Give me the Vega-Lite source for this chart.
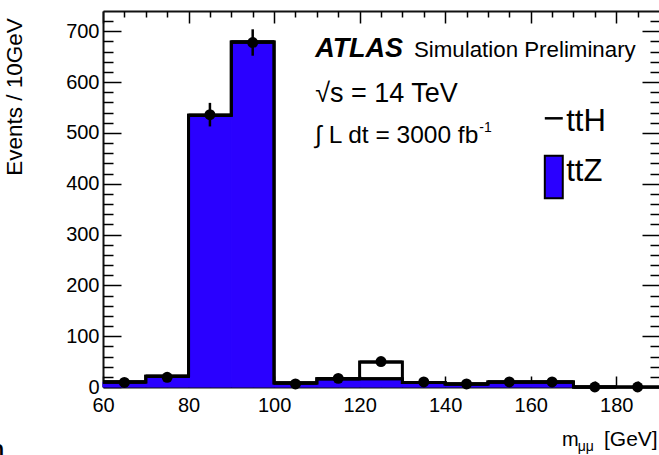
{
  "$schema": "https://vega.github.io/schema/vega-lite/v6.json",
  "width": 556,
  "height": 376,
  "autosize": {"type": "none"},
  "padding": {"left": 103, "top": 11, "right": 0, "bottom": 68},
  "background": "white",
  "config": {
    "font": "Liberation Sans",
    "view": {"stroke": null},
    "axis": {"labelFont": "Liberation Sans", "labelColor": "#000", "tickColor": "#000", "domainColor": "#111", "grid": false, "title": null}
  },
  "resolve": {"axis": {"x": "independent", "y": "independent"}},
  "datasets": {
    "bins": [
      {"lo": 60, "hi": 70, "mid": 65, "ttZ": 10, "total": 10, "obs": 9, "obsLo": 6, "obsHi": 12},
      {"lo": 70, "hi": 80, "mid": 75, "ttZ": 21, "total": 21, "obs": 19, "obsLo": 14.6, "obsHi": 23.4},
      {"lo": 80, "hi": 90, "mid": 85, "ttZ": 535, "total": 535, "obs": 536, "obsLo": 512.8, "obsHi": 559.2},
      {"lo": 90, "hi": 100, "mid": 95, "ttZ": 679, "total": 679, "obs": 678, "obsLo": 652, "obsHi": 704},
      {"lo": 100, "hi": 110, "mid": 105, "ttZ": 8, "total": 8, "obs": 6, "obsLo": 3.6, "obsHi": 8.4},
      {"lo": 110, "hi": 120, "mid": 115, "ttZ": 16, "total": 16, "obs": 17, "obsLo": 12.9, "obsHi": 21.1},
      {"lo": 120, "hi": 130, "mid": 125, "ttZ": 16, "total": 49, "obs": 50, "obsLo": 42.9, "obsHi": 57.1},
      {"lo": 130, "hi": 140, "mid": 135, "ttZ": 9, "total": 9, "obs": 10, "obsLo": 6.8, "obsHi": 13.2},
      {"lo": 140, "hi": 150, "mid": 145, "ttZ": 6, "total": 6, "obs": 6, "obsLo": 3.6, "obsHi": 8.4},
      {"lo": 150, "hi": 160, "mid": 155, "ttZ": 10, "total": 10, "obs": 10, "obsLo": 6.8, "obsHi": 13.2},
      {"lo": 160, "hi": 170, "mid": 165, "ttZ": 10, "total": 10, "obs": 10, "obsLo": 6.8, "obsHi": 13.2},
      {"lo": 170, "hi": 180, "mid": 175, "ttZ": 0, "total": 0, "obs": 0, "obsLo": 0, "obsHi": 0},
      {"lo": 180, "hi": 190, "mid": 185, "ttZ": 0, "total": 0, "obs": 0, "obsLo": 0, "obsHi": 0}
    ]
  },
  "layer": [
    {
      "data": {"name": "bins"},
      "mark": {"type": "bar", "fill": "#2a00ff", "stroke": "#2a00ff", "strokeWidth": 1},
      "encoding": {
        "x": {"field": "lo", "type": "quantitative", "scale": {"domain": [60, 190], "nice": false, "zero": false},
          "axis": {"orient": "bottom", "values": [60, 80, 100, 120, 140, 160, 180], "ticks": false, "labelFontSize": 20, "labelPadding": 8, "labelBaseline": "top", "labelFlush": false, "labelOverlap": false, "domain": true, "domainWidth": 2}},
        "x2": {"field": "hi"},
        "y": {"field": "ttZ", "type": "quantitative", "scale": {"domain": [0, 740], "nice": false, "zero": false},
          "axis": {"orient": "left", "values": [0, 100, 200, 300, 400, 500, 600, 700], "ticks": false, "labelFontSize": 20, "labelPadding": 4, "labelAlign": "right", "labelBaseline": "middle", "labelFlush": false, "labelOverlap": false, "domain": true, "domainWidth": 2}},
        "y2": {"datum": 0}
      }
    },
    {
      "data": {"name": "bins"},
      "mark": {"type": "line", "interpolate": "step-after", "color": "#000", "strokeWidth": 3},
      "encoding": {
        "x": {"field": "lo", "type": "quantitative", "scale": {"domain": [60, 190], "nice": false, "zero": false},
          "axis": {"orient": "top", "values": [60, 80, 100, 120, 140, 160, 180], "labels": false, "ticks": true, "tickSize": -12, "tickWidth": 1.5, "domain": true, "domainWidth": 2}},
        "y": {"field": "total", "type": "quantitative", "scale": {"domain": [0, 740], "nice": false, "zero": false},
          "axis": {"orient": "right", "values": [0, 100, 200, 300, 400, 500, 600, 700], "labels": false, "ticks": true, "tickSize": -17, "tickWidth": 1.5, "domain": false}}
      }
    },
    {
      "data": {"name": "bins"},
      "mark": {"type": "rule", "color": "#000", "strokeWidth": 3},
      "encoding": {
        "x": {"field": "lo", "type": "quantitative", "scale": {"domain": [60, 190], "nice": false, "zero": false},
          "axis": {"orient": "bottom", "values": [60, 80, 100, 120, 140, 160, 180], "labels": false, "ticks": true, "tickSize": -11, "tickWidth": 1.5, "domain": false}},
        "x2": {"field": "hi"},
        "y": {"field": "total", "type": "quantitative", "scale": {"domain": [0, 740], "nice": false, "zero": false},
          "axis": {"orient": "left", "values": [0, 100, 200, 300, 400, 500, 600, 700], "labels": false, "ticks": true, "tickSize": -18, "tickWidth": 1.5, "domain": false}}
      }
    },
    {
      "data": {"name": "bins"},
      "mark": {"type": "line", "interpolate": "step-after", "color": "#000", "strokeWidth": 3},
      "encoding": {
        "x": {"field": "lo", "type": "quantitative", "scale": {"domain": [60, 190], "nice": false, "zero": false},
          "axis": {"orient": "bottom", "values": [65, 70, 75, 85, 90, 95, 105, 110, 115, 125, 130, 135, 145, 150, 155, 165, 170, 175, 185], "labels": false, "ticks": true, "tickSize": -6, "tickWidth": 1.5, "domain": false}},
        "y": {"field": "ttZ", "type": "quantitative", "scale": {"domain": [0, 740], "nice": false, "zero": false},
          "axis": {"orient": "left", "values": [20, 40, 60, 80, 120, 140, 160, 180, 220, 240, 260, 280, 320, 340, 360, 380, 420, 440, 460, 480, 520, 540, 560, 580, 620, 640, 660, 680, 720], "labels": false, "ticks": true, "tickSize": -10, "tickWidth": 1.5, "domain": false}}
      }
    },
    {
      "data": {"name": "bins"},
      "mark": {"type": "rule", "color": "#000", "strokeWidth": 3},
      "encoding": {
        "x": {"field": "lo", "type": "quantitative", "scale": {"domain": [60, 190], "nice": false, "zero": false},
          "axis": {"orient": "top", "values": [65, 70, 75, 85, 90, 95, 105, 110, 115, 125, 130, 135, 145, 150, 155, 165, 170, 175, 185], "labels": false, "ticks": true, "tickSize": -6, "tickWidth": 1.5, "domain": false}},
        "x2": {"field": "hi"},
        "y": {"field": "ttZ", "type": "quantitative", "scale": {"domain": [0, 740], "nice": false, "zero": false},
          "axis": {"orient": "right", "values": [20, 40, 60, 80, 120, 140, 160, 180, 220, 240, 260, 280, 320, 340, 360, 380, 420, 440, 460, 480, 520, 540, 560, 580, 620, 640, 660, 680, 720], "labels": false, "ticks": true, "tickSize": -9, "tickWidth": 1.5, "domain": false}}
      }
    },
    {
      "data": {"name": "bins"},
      "mark": {"type": "rule", "color": "#000", "strokeWidth": 2.5},
      "encoding": {
        "x": {"field": "mid", "type": "quantitative", "scale": {"domain": [60, 190], "nice": false, "zero": false}, "axis": null},
        "y": {"field": "obsLo", "type": "quantitative", "scale": {"domain": [0, 740], "nice": false, "zero": false}, "axis": null},
        "y2": {"field": "obsHi"}
      }
    },
    {
      "data": {"name": "bins"},
      "mark": {"type": "point", "filled": true, "color": "#000", "size": 120, "opacity": 1},
      "encoding": {
        "x": {"field": "mid", "type": "quantitative", "scale": {"domain": [60, 190], "nice": false, "zero": false}, "axis": null},
        "y": {"field": "obs", "type": "quantitative", "scale": {"domain": [0, 740], "nice": false, "zero": false}, "axis": null}
      }
    },
    {
      "data": {"values": [{}]},
      "mark": {"type": "text", "text": "ATLAS", "font": "Liberation Sans", "fontSize": 27, "fontWeight": "bold", "fontStyle": "italic", "align": "left", "baseline": "alphabetic", "color": "#000"},
      "encoding": {
        "x": {"datum": 109.6, "type": "quantitative", "scale": {"domain": [60, 190], "nice": false, "zero": false}, "axis": null},
        "y": {"datum": 650, "type": "quantitative", "scale": {"domain": [0, 740], "nice": false, "zero": false}, "axis": null}
      }
    },
    {
      "data": {"values": [{}]},
      "mark": {"type": "text", "text": "Simulation Preliminary", "font": "Liberation Sans", "fontSize": 22.3, "align": "left", "baseline": "alphabetic", "color": "#000"},
      "encoding": {
        "x": {"datum": 132.7, "type": "quantitative", "scale": {"domain": [60, 190], "nice": false, "zero": false}, "axis": null},
        "y": {"datum": 650, "type": "quantitative", "scale": {"domain": [0, 740], "nice": false, "zero": false}, "axis": null}
      }
    },
    {
      "data": {"values": [{}]},
      "mark": {"type": "text", "text": "√s = 14 TeV", "font": "Liberation Sans", "fontSize": 27, "align": "left", "baseline": "alphabetic", "color": "#000"},
      "encoding": {
        "x": {"datum": 109.6, "type": "quantitative", "scale": {"domain": [60, 190], "nice": false, "zero": false}, "axis": null},
        "y": {"datum": 561.5, "type": "quantitative", "scale": {"domain": [0, 740], "nice": false, "zero": false}, "axis": null}
      }
    },
    {
      "data": {"values": [{}]},
      "mark": {"type": "text", "text": "∫ L dt = 3000 fb", "font": "Liberation Sans", "fontSize": 24.5, "align": "left", "baseline": "alphabetic", "color": "#000"},
      "encoding": {
        "x": {"datum": 109.6, "type": "quantitative", "scale": {"domain": [60, 190], "nice": false, "zero": false}, "axis": null},
        "y": {"datum": 479.6, "type": "quantitative", "scale": {"domain": [0, 740], "nice": false, "zero": false}, "axis": null}
      }
    },
    {
      "data": {"values": [{}]},
      "mark": {"type": "text", "text": "-1", "font": "Liberation Sans", "fontSize": 14, "align": "left", "baseline": "alphabetic", "color": "#000"},
      "encoding": {
        "x": {"datum": 148.0, "type": "quantitative", "scale": {"domain": [60, 190], "nice": false, "zero": false}, "axis": null},
        "y": {"datum": 502, "type": "quantitative", "scale": {"domain": [0, 740], "nice": false, "zero": false}, "axis": null}
      }
    },
    {
      "data": {"values": [{}]},
      "mark": {"type": "rule", "color": "#000", "strokeWidth": 2.5},
      "encoding": {
        "x": {"datum": 163.3, "type": "quantitative", "scale": {"domain": [60, 190], "nice": false, "zero": false}, "axis": null},
        "x2": {"datum": 167.5},
        "y": {"datum": 528.8, "type": "quantitative", "scale": {"domain": [0, 740], "nice": false, "zero": false}, "axis": null}
      }
    },
    {
      "data": {"values": [{}]},
      "mark": {"type": "text", "text": "ttH", "font": "Liberation Sans", "fontSize": 31, "align": "left", "baseline": "alphabetic", "color": "#000"},
      "encoding": {
        "x": {"datum": 168.3, "type": "quantitative", "scale": {"domain": [60, 190], "nice": false, "zero": false}, "axis": null},
        "y": {"datum": 504.4, "type": "quantitative", "scale": {"domain": [0, 740], "nice": false, "zero": false}, "axis": null}
      }
    },
    {
      "data": {"values": [{}]},
      "mark": {"type": "rect", "fill": "#2a00ff", "stroke": "#000", "strokeWidth": 2},
      "encoding": {
        "x": {"datum": 163.3, "type": "quantitative", "scale": {"domain": [60, 190], "nice": false, "zero": false}, "axis": null},
        "x2": {"datum": 167.5},
        "y": {"datum": 455.2, "type": "quantitative", "scale": {"domain": [0, 740], "nice": false, "zero": false}, "axis": null},
        "y2": {"datum": 371.4}
      }
    },
    {
      "data": {"values": [{}]},
      "mark": {"type": "text", "text": "ttZ", "font": "Liberation Sans", "fontSize": 31, "align": "left", "baseline": "alphabetic", "color": "#000"},
      "encoding": {
        "x": {"datum": 168.3, "type": "quantitative", "scale": {"domain": [60, 190], "nice": false, "zero": false}, "axis": null},
        "y": {"datum": 404.9, "type": "quantitative", "scale": {"domain": [0, 740], "nice": false, "zero": false}, "axis": null}
      }
    },
    {
      "data": {"values": [{}]},
      "mark": {"type": "text", "text": "Events / 10GeV", "font": "Liberation Sans", "fontSize": 22.5, "angle": 270, "align": "right", "baseline": "middle", "color": "#000"},
      "encoding": {
        "x": {"datum": 39.4, "type": "quantitative", "scale": {"domain": [60, 190], "nice": false, "zero": false}, "axis": null},
        "y": {"datum": 726, "type": "quantitative", "scale": {"domain": [0, 740], "nice": false, "zero": false}, "axis": null}
      }
    },
    {
      "data": {"values": [{}]},
      "mark": {"type": "text", "text": "[GeV]", "font": "Liberation Sans", "fontSize": 21, "align": "right", "baseline": "alphabetic", "color": "#000"},
      "encoding": {
        "x": {"datum": 189.7, "type": "quantitative", "scale": {"domain": [60, 190], "nice": false, "zero": false}, "axis": null},
        "y": {"datum": -116, "type": "quantitative", "scale": {"domain": [0, 740], "nice": false, "zero": false}, "axis": null}
      }
    },
    {
      "data": {"values": [{}]},
      "mark": {"type": "text", "text": "m", "font": "Liberation Sans", "fontSize": 20, "align": "left", "baseline": "alphabetic", "color": "#000"},
      "encoding": {
        "x": {"datum": 167.3, "type": "quantitative", "scale": {"domain": [60, 190], "nice": false, "zero": false}, "axis": null},
        "y": {"datum": -116, "type": "quantitative", "scale": {"domain": [0, 740], "nice": false, "zero": false}, "axis": null}
      }
    },
    {
      "data": {"values": [{}]},
      "mark": {"type": "text", "text": "μμ", "font": "Liberation Sans", "fontSize": 14, "align": "left", "baseline": "alphabetic", "color": "#000"},
      "encoding": {
        "x": {"datum": 171.0, "type": "quantitative", "scale": {"domain": [60, 190], "nice": false, "zero": false}, "axis": null},
        "y": {"datum": -126, "type": "quantitative", "scale": {"domain": [0, 740], "nice": false, "zero": false}, "axis": null}
      }
    },
    {
      "data": {"values": [{}]},
      "mark": {"type": "text", "text": "n", "font": "Liberation Sans", "fontSize": 30, "align": "left", "baseline": "alphabetic", "color": "#000"},
      "encoding": {
        "x": {"datum": 33.1, "type": "quantitative", "scale": {"domain": [60, 190], "nice": false, "zero": false}, "axis": null},
        "y": {"datum": -143.7, "type": "quantitative", "scale": {"domain": [0, 740], "nice": false, "zero": false}, "axis": null}
      }
    }
  ]
}
